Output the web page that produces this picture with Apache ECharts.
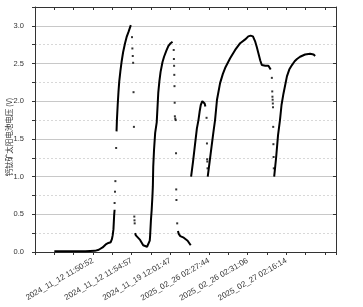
<!DOCTYPE html>
<html>
<head>
<meta charset="UTF-8">
<title></title>
<script src="https://cdn.jsdelivr.net/npm/echarts@6/dist/echarts.min.js"></script>
<style>
  html, body { margin: 0; padding: 0; background: #fff; }
  #main { width: 363px; height: 307px; }
</style>
</head>
<body>
<div id="main"></div>
<script>
// x: row number of the sample, y: voltage (V)
var tickLabels = {
  100: '2024_11_12 11:50:52',
  200: '2024_11_12 11:54:57',
  300: '2024_11_19 12:01:47',
  400: '2025_02_26 02:27:44',
  500: '2025_02_26 02:31:06',
  600: '2025_02_27 02:16:14'
};

// continuous stretches of the curve
var segA = [[0,0.01],[40,0.01],[80,0.01],[105,0.015],[115,0.03],[125,0.06],[133,0.1],[140,0.12],[146,0.13],[149,0.17],[151,0.22],[153,0.3],[154,0.4],[155,0.5],[156,0.56]];
var segA2 = [[161,1.6],[162,1.75],[164,1.95],[166,2.12],[168,2.26],[171,2.4],[174,2.52],[178,2.65],[183,2.77],[187,2.85],[192,2.92],[196,2.98],[198,3.01]];
var segB = [[209,0.25],[211,0.22],[215,0.2],[222,0.16],[230,0.09],[235,0.07],[240,0.07],[244,0.09],[247,0.15],[248,0.22],[250,0.42],[252,0.56],[254,0.75],[255,0.87],[256,1.13],[258,1.35],[261,1.58],[265,1.72],[269,2.11],[272,2.27],[275,2.39],[280,2.52],[284,2.59],[290,2.67],[295,2.73],[301,2.77],[306,2.79]];
var segC = [[320,0.28],[322,0.24],[326,0.21],[330,0.2],[335,0.19],[340,0.18],[345,0.15],[349,0.12],[353,0.09]];
var segD = [[354,1.0],[359,1.2],[364,1.42],[369,1.64],[373,1.75],[376,1.86],[379,1.95],[383,2.0],[386,2.01],[389,1.97],[391,1.93]];
var segE = [[397,1.0],[402,1.2],[407,1.4],[412,1.6],[416,1.75],[421,2.02],[429,2.24],[436,2.36],[442,2.44],[455,2.57],[468,2.68],[481,2.77],[494,2.82],[502,2.86],[508,2.87],[514,2.86],[520,2.79],[524,2.72],[528,2.64],[533,2.54],[537,2.48],[546,2.47],[554,2.47],[558,2.45],[560,2.42]];
var segF = [[569,1.0],[574,1.25],[579,1.55],[584,1.75],[588,1.95],[593,2.1],[602,2.33],[608,2.42],[615,2.48],[622,2.53],[628,2.56],[636,2.59],[649,2.62],[662,2.63],[671,2.62],[675,2.6]];

// isolated samples on the fast rises / drops
var dots = [[156,0.65],[157,0.8],[158,0.94],[160,1.38],
  [201,2.85],[202,2.7],[203,2.6],[204,2.51],[205,2.12],[206,1.66],[207,0.47],[207.5,0.42],[208,0.38],
  [309,2.68],[309.5,2.56],[310,2.47],[310.5,2.35],[311,2.2],[311.5,1.98],[312,1.8],[313,1.77],[314,1.75],[315,1.31],[315.5,0.83],[316,0.69],[318,0.38],
  [394,1.78],[395,1.44],[395.5,1.23],[396,1.2],[396.5,1.11],
  [563,2.31],[564,2.13],[564.5,2.06],[565,2.02],[565.5,1.97],[566,1.92],[566.5,1.66],[567,1.43],[567.5,1.26],[568,1.11]];

var segments = [segA, segA2, segB, segC, segD, segE, segF];

var myChart = echarts.init(document.getElementById('main'));
var font = 'Liberation Sans, Arial, sans-serif';
var axisCol = '#333';

var series = segments.map(function(s) {
  return {
    type: 'line', data: s, symbol: 'none', silent: true,
    lineStyle: { color: '#000', width: 2 }
  };
});
series.push({
  type: 'scatter', data: dots, symbol: 'rect', symbolSize: 2,
  itemStyle: { color: '#000' }, silent: true
});

var option = {
  animation: false,
  grid: { left: 35, right: 27, top: 7, bottom: 55, containLabel: false, outerBoundsMode: 'none' },
  xAxis: [{
    type: 'value', position: 'bottom', min: -50, max: 729, interval: 50,
    axisLine: { show: true, onZero: false, lineStyle: { color: axisCol, width: 1 } },
    axisTick: { show: true, length: 3, lineStyle: { color: axisCol } },
    splitLine: { show: false },
    axisLabel: {
      rotate: 30, fontSize: 8, color: '#333', fontFamily: font, margin: 8,
      showMinLabel: true, showMaxLabel: true,
      formatter: function(v) { return tickLabels[v] || ''; }
    }
  }, {
    type: 'value', position: 'top', min: -50, max: 729, interval: 50,
    axisLine: { show: true, onZero: false, lineStyle: { color: axisCol, width: 1 } },
    axisTick: { show: true, inside: true, length: 3, lineStyle: { color: axisCol } },
    splitLine: { show: false },
    axisLabel: { show: false }
  }],
  yAxis: [{
    type: 'value', position: 'left', min: 0, max: 3.25, interval: 0.25,
    // trailing full-width spaces nudge the title a little below the middle, as in the original
    name: '钙钛矿太阳电池电压 (V)\u3000\u3000', nameLocation: 'middle', nameGap: 22.5, nameMoveOverlap: false,
    nameTextStyle: { fontSize: 7.5, color: '#333', fontFamily: 'Noto Sans CJK SC' },
    axisLine: { show: true, onZero: false, lineStyle: { color: axisCol, width: 1 } },
    axisTick: { show: true, length: 3, lineStyle: { color: axisCol } },
    splitLine: { show: true, lineStyle: { color: '#d8d8d8', type: [2, 2], width: 1 } },
    axisLabel: {
      fontSize: 7.5, color: '#333', fontFamily: font, margin: 11,
      formatter: function(v) {
        return Math.abs(v * 2 - Math.round(v * 2)) < 1e-6 && v <= 3 ? v.toFixed(1) : '';
      }
    }
  }, {
    type: 'value', position: 'right', min: 0, max: 3.25, interval: 0.5,
    axisLine: { show: true, onZero: false, lineStyle: { color: axisCol, width: 1 } },
    axisTick: { show: true, inside: true, length: 3, lineStyle: { color: axisCol } },
    splitLine: { show: true, lineStyle: { color: '#c8c8c8', width: 1 } },
    axisLabel: { show: false }
  }],
  series: series
};

myChart.setOption(option);
</script>
</body>
</html>
